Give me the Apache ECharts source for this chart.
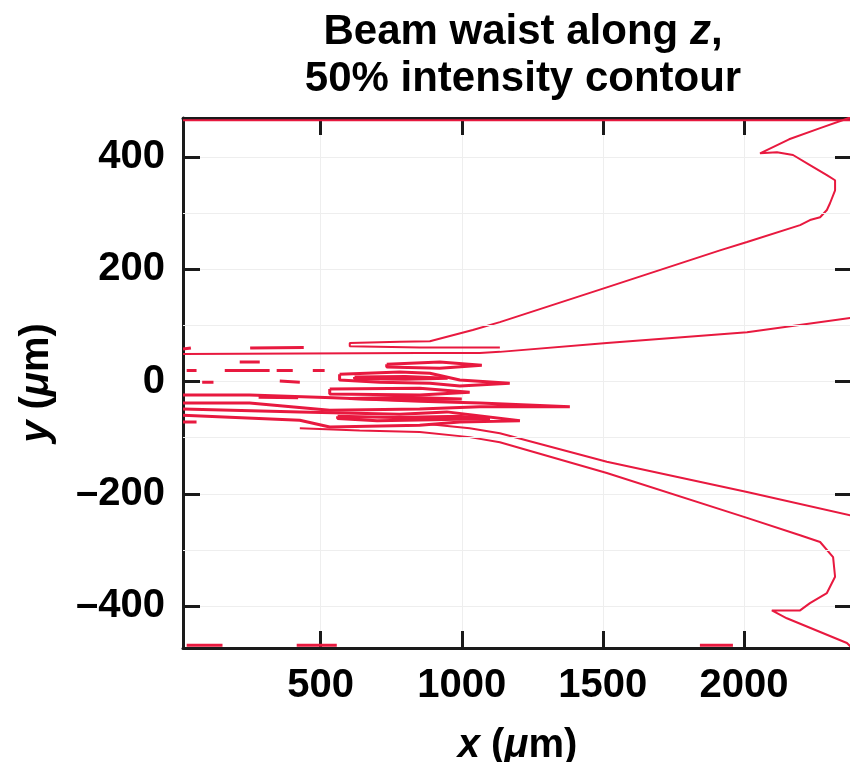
<!DOCTYPE html>
<html>
<head>
<meta charset="utf-8">
<script src="https://cdn.jsdelivr.net/npm/echarts@6/dist/echarts.min.js"></script>
<style>
html, body { margin: 0; padding: 0; background: #fff; }
#chart { width: 850px; height: 762px; }
</style>
</head>
<body>
<div id="chart"></div>
<script>
// 50% intensity contour traces, [x, y] in µm
var upperOuter = [[1135,61],[851,61],[603,63],[603,69],[780,71],[887,72],[1039,92],[1135,106],[1514,168],[1915,234],[2011,249],[2199,279],[2234,288],[2270,293],[2294,306],[2305,318],[2323,341],[2323,359],[2294,368],[2234,386],[2174,404],[2117,409],[2057,407],[2160,432],[2270,452],[2383,472]];
var upperInner = [[12,49],[426,50],[851,51],[1064,51],[1135,53],[1514,69],[2011,88],[2383,114]];
var lowerInner = [[887,-76],[1028,-83],[1135,-92],[1514,-143],[2011,-197],[2383,-239]];
var lowerOuter = [[426,-83],[638,-87],[851,-90],[1028,-99],[1135,-108],[1514,-163],[2011,-243],[2199,-274],[2270,-286],[2316,-313],[2323,-348],[2294,-377],[2234,-395],[2199,-408],[2099,-408],[2152,-422],[2365,-466],[2383,-475]];

// small closed loops in the waist region
var loopB = [[734,31],[922,35],[1071,29],[922,24],[734,26],[734,31]];
var loopC = [[567,13],[780,17],[887,15],[993,3],[1170,-3],[993,-8],[887,-3],[709,-1],[567,3],[567,13]];
var loopD = [[532,-13],[851,-12],[1028,-19],[851,-24],[532,-22],[532,-13]];
var loopE = [[12,-24],[248,-24],[543,-29],[851,-35],[1064,-38],[1383,-45],[1064,-45],[851,-49],[532,-51],[248,-38],[12,-38]];
var loopF = [[12,-49],[426,-54],[780,-58],[947,-54],[1206,-70],[993,-72],[851,-78],[532,-81],[426,-69],[12,-60]];
var loopG = [[620,8],[800,9],[950,6],[800,4],[620,5],[620,8]];
var loopH = [[560,-62],[760,-64],[1000,-62],[1100,-66],[900,-68],[700,-70],[560,-66],[560,-62]];
var loopI = [[600,-30],[800,-33],[1000,-31],[800,-28],[600,-30]];

// short broken pieces
var fragments = [
  [[213,35],[284,35]], [[25,20],[60,20]], [[160,20],[319,20]], [[344,20],[401,20]],
  [[472,20],[514,20]], [[355,1],[426,-1]], [[250,60],[440,61]], [[80,-1],[120,-1]],
  [[12,58],[40,60]], [[280,-28],[420,-29]], [[12,-72],[60,-72]]
];
var topEdge = [[12,466],[2383,466]];
var bottomEdge = [[[25,-470],[152,-470]], [[415,-470],[557,-470]], [[1844,-470],[1961,-470]]];

var minorGrid = [300, 100, -100, -300];

var xMin = 12, xMax = 2383, yMin = -475, yMax = 470;
var red = '#e8193f';
var font = 'Liberation Sans, Arial, sans-serif';

var myChart = echarts.init(document.getElementById('chart'));

function trace(data, w) {
  return {
    type: 'line', data: data, showSymbol: false, symbol: 'none',
    silent: true, animation: false,
    lineStyle: { color: red, width: w || 2 }
  };
}

var series = [];
[upperOuter, upperInner, lowerInner, lowerOuter].forEach(function (d) { series.push(trace(d, 2)); });
[loopB, loopC, loopD, loopE, loopF, loopG, loopH, loopI].forEach(function (d) { series.push(trace(d, 3)); });
fragments.forEach(function (d) { series.push(trace(d, 3)); });
bottomEdge.forEach(function (d) { series.push(trace(d, 3)); });
var edge = trace(topEdge, 2);
edge.markLine = {
  silent: true, symbol: 'none', animation: false, label: { show: false },
  lineStyle: { color: '#eeeeee', width: 1, type: 'solid' },
  data: minorGrid.map(function (v) { return { yAxis: v }; })
};
series.push(edge);

var axisCommon = {
  type: 'value',
  axisLine: { show: true, onZero: false, lineStyle: { color: '#1a1a1a', width: 3 } },
  axisTick: { show: true, inside: true, length: 17, lineStyle: { color: '#1a1a1a', width: 3 } }
};

var option = {
  backgroundColor: '#fff',
  animation: false,
  title: {
    left: 518, top: 4, textAlign: 'center',
    text: '{b|Beam waist along }{bi|z}{b|,}\n{b|50% intensity contour}',
    textStyle: {
      rich: {
        b: { fontFamily: font, fontWeight: 'bold', fontSize: 42, lineHeight: 47, color: '#000' },
        bi: { fontFamily: font, fontWeight: 'bold', fontStyle: 'italic', fontSize: 42, lineHeight: 47, color: '#000' }
      }
    }
  },
  grid: { left: 183, right: -2, top: 118, bottom: 114, containLabel: false, outerBoundsMode: 'none' },
  xAxis: [
    Object.assign({}, axisCommon, {
      position: 'bottom', min: xMin, max: xMax, splitNumber: 5,
      minInterval: 500, maxInterval: 500,
      splitLine: { show: true, lineStyle: { color: '#eeeeee', width: 1 } },
      axisLabel: {
        margin: 18, showMinLabel: false, showMaxLabel: false,
        fontFamily: font, fontWeight: 'bold', fontSize: 40, color: '#000',
        formatter: function (v) { return String(v); }
      },
      name: '{i|x} ({i|μ}m)', nameLocation: 'middle', nameGap: 78,
      nameTextStyle: {
        rich: {
          i: { fontFamily: font, fontWeight: 'bold', fontStyle: 'italic', fontSize: 40, color: '#000' }
        },
        fontFamily: font, fontWeight: 'bold', fontSize: 40, color: '#000'
      }
    }),
    Object.assign({}, axisCommon, {
      position: 'top', min: xMin, max: xMax, splitNumber: 5,
      minInterval: 500, maxInterval: 500,
      splitLine: { show: false }, axisLabel: { show: false }
    })
  ],
  yAxis: [
    Object.assign({}, axisCommon, {
      position: 'left', min: yMin, max: yMax, splitNumber: 5,
      minInterval: 200, maxInterval: 200,
      splitLine: { show: true, lineStyle: { color: '#eeeeee', width: 1 } },
      axisLabel: {
        margin: 18, showMinLabel: false, showMaxLabel: false,
        fontFamily: font, fontWeight: 'bold', fontSize: 40, color: '#000',
        formatter: function (v) { return v < 0 ? '\u2013' + Math.abs(v) : String(v); }
      },
      name: '{i|y} ({i|μ}m)', nameLocation: 'middle', nameGap: 126, nameRotate: 90,
      nameTextStyle: {
        rich: {
          i: { fontFamily: font, fontWeight: 'bold', fontStyle: 'italic', fontSize: 40, color: '#000' }
        },
        fontFamily: font, fontWeight: 'bold', fontSize: 40, color: '#000'
      }
    }),
    Object.assign({}, axisCommon, {
      position: 'right', min: yMin, max: yMax, splitNumber: 5,
      minInterval: 200, maxInterval: 200,
      splitLine: { show: false }, axisLabel: { show: false }
    })
  ],
  series: series
};

myChart.setOption(option);
</script>
</body>
</html>
